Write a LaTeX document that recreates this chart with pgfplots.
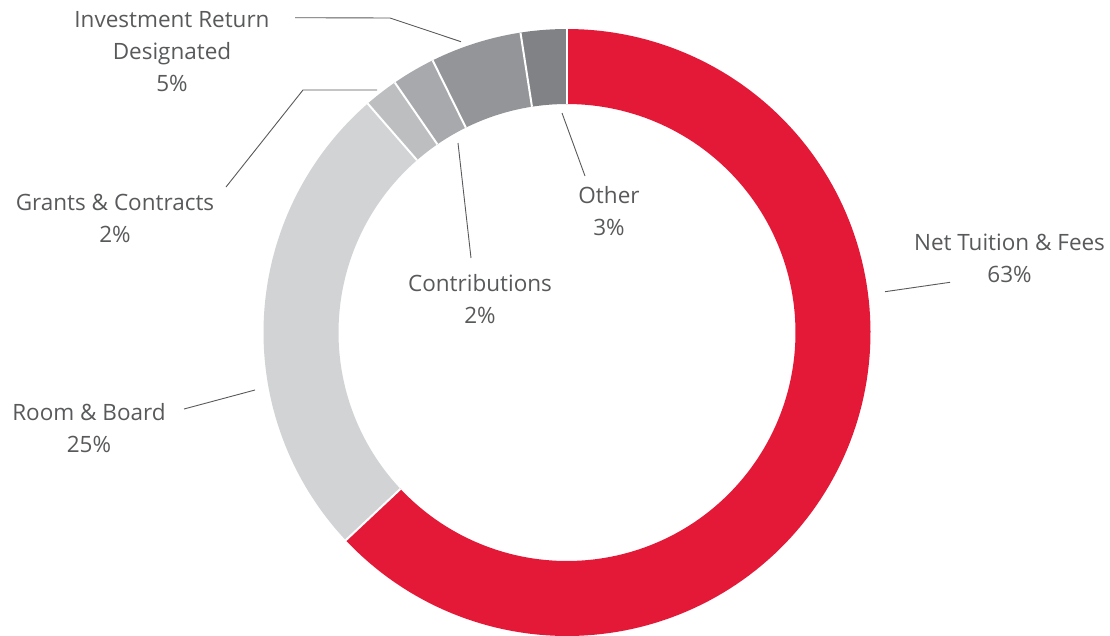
\documentclass[border=0pt]{standalone}
\usepackage{pgfplots}
\usepackage{pgfplotstable}
\pgfplotsset{compat=1.18}
\usepackage{fontspec}
\setmainfont{Open Sans}
\definecolor{cNet}{HTML}{E41937}
\definecolor{cRoom}{HTML}{D1D3D4}
\definecolor{cGrants}{HTML}{BCBEC0}
\definecolor{cContrib}{HTML}{A7A9AC}
\definecolor{cInvest}{HTML}{939598}
\definecolor{cOther}{HTML}{808285}
\definecolor{textgrey}{HTML}{58595B}

\pgfplotstableread{
label value
Net 63.0
Room 25.6
Grants 1.8
Contrib 2.3
Invest 4.85
Other 2.45
}\donutdata

\pgfplotstablegetelem{0}{value}\of\donutdata \let\vA\pgfplotsretval
\pgfplotstablegetelem{1}{value}\of\donutdata \let\vB\pgfplotsretval
\pgfplotstablegetelem{2}{value}\of\donutdata \let\vC\pgfplotsretval
\pgfplotstablegetelem{3}{value}\of\donutdata \let\vD\pgfplotsretval
\pgfplotstablegetelem{4}{value}\of\donutdata \let\vE\pgfplotsretval
\pgfplotstablegetelem{5}{value}\of\donutdata \let\vF\pgfplotsretval
\pgfmathsetmacro\aA{0}
\pgfmathsetmacro\aB{\aA+3.6*\vA}
\pgfmathsetmacro\aC{\aB+3.6*\vB}
\pgfmathsetmacro\aD{\aC+3.6*\vC}
\pgfmathsetmacro\aE{\aD+3.6*\vD}
\pgfmathsetmacro\aF{\aE+3.6*\vE}
\pgfmathsetmacro\aG{\aF+3.6*\vF}

% geometry (pixel units)
\def\cx{567}
\def\cy{332.5}
\def\rm{266}   % middle radius
\def\ro{303.5}
\def\ri{228.5}

\newcommand{\seg}[3]{%
  \addplot[color=#1, line width=75pt, line cap=butt, domain=#2:#3, samples=150]
    ({\cx+\rm*sin(x)},{\cy-\rm*cos(x)});}
\newcommand{\sep}[1]{%
  \draw[white, line width=2pt] (axis cs:{\cx+\ri*sin(#1)},{\cy-\ri*cos(#1)}) -- (axis cs:{\cx+\ro*sin(#1)},{\cy-\ro*cos(#1)});}

\begin{document}
\begin{tikzpicture}[every node/.style={font=\fontsize{22.5}{26}\selectfont, text=textgrey, inner sep=0pt}]
\begin{axis}[
  scale only axis, width=1110pt, height=635pt,
  xmin=0, xmax=1110, ymin=0, ymax=635, y dir=reverse,
  hide axis, clip=false,
]
\seg{cNet}{\aA}{\aB}
\seg{cRoom}{\aB}{\aC}
\seg{cGrants}{\aC}{\aD}
\seg{cContrib}{\aD}{\aE}
\seg{cInvest}{\aE}{\aF}
\seg{cOther}{\aF}{\aG}
\sep{\aA}\sep{\aB}\sep{\aC}\sep{\aD}\sep{\aE}\sep{\aF}

% leader lines
\draw[textgrey, line width=0.9pt] (axis cs:295,17.7) -- (axis cs:390,18) -- (axis cs:461,41.7);
\draw[textgrey, line width=0.9pt] (axis cs:377,90) -- (axis cs:303,90) -- (axis cs:226,187);
\draw[textgrey, line width=0.9pt] (axis cs:458,143) -- (axis cs:471,258);
\draw[textgrey, line width=0.9pt] (axis cs:562,113) -- (axis cs:585,176);
\draw[textgrey, line width=0.9pt] (axis cs:885,291.7) -- (axis cs:950,282.3);
\draw[textgrey, line width=0.9pt] (axis cs:184,409) -- (axis cs:255,390);

% labels
\node[anchor=base] at (axis cs:1009.5,250) {Net Tuition \& Fees};
\node[anchor=base] at (axis cs:1009.5,282) {63\%};
\node[anchor=base] at (axis cs:89,420) {Room \& Board};
\node[anchor=base] at (axis cs:89,452) {25\%};
\node[anchor=base] at (axis cs:115,210) {Grants \& Contracts};
\node[anchor=base] at (axis cs:115,242) {2\%};
\node[anchor=base] at (axis cs:480,291) {Contributions};
\node[anchor=base] at (axis cs:480,323) {2\%};
\node[anchor=base] at (axis cs:609,203) {Other};
\node[anchor=base] at (axis cs:609,235) {3\%};
\node[anchor=base] at (axis cs:172,27) {Investment Return};
\node[anchor=base] at (axis cs:172,59) {Designated};
\node[anchor=base] at (axis cs:172,91) {5\%};
\end{axis}
\pgfresetboundingbox
\path (current axis.south west) rectangle (current axis.north east);
\end{tikzpicture}
\end{document}
